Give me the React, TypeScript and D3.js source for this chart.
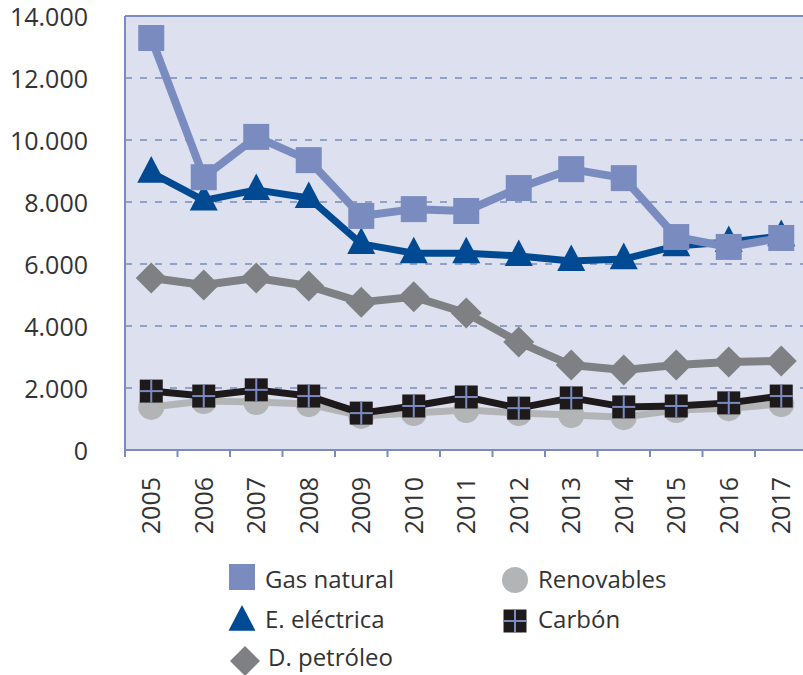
import React from "react";
import * as d3 from "d3";

// years on the x axis
const years = ["2005", "2006", "2007", "2008", "2009", "2010", "2011", "2012", "2013", "2014", "2015", "2016", "2017"];

// series values
const gasNatural = [13290, 8800, 10100, 9350, 7550, 7770, 7710, 8450, 9060, 8770, 6870, 6550, 6840];
const electrica = [8950, 8050, 8390, 8130, 6650, 6350, 6350, 6260, 6100, 6160, 6580, 6710, 6900];
const petroleo = [5550, 5320, 5550, 5290, 4770, 4940, 4420, 3480, 2740, 2580, 2740, 2840, 2870];
const renovables = [1390, 1580, 1550, 1480, 1100, 1190, 1290, 1190, 1130, 1060, 1290, 1350, 1480];
const carbon = [1900, 1740, 1940, 1740, 1190, 1420, 1710, 1350, 1680, 1390, 1420, 1520, 1740];

const yTicks = [0, 2000, 4000, 6000, 8000, 10000, 12000, 14000];

const FONT = "'Open Sans', 'Noto Sans', sans-serif";
const GAS = "#7a8cbf";
const ELEC = "#004a93";
const PETRO = "#7f8083";
const RENOV = "#b3b4b6";
const CARB = "#1e1a1b";

function Marker({ type, x, y, s, color }: { type: string; x: number; y: number; s: number; color: string }) {
  if (type === "square") {
    return <rect x={x - s / 2} y={y - s / 2} width={s} height={s} fill={color} />;
  }
  if (type === "triangle") {
    const h = s * 0.95;
    return (
      <path
        d={`M${x},${y - h * 0.62} L${x + s / 2},${y + h * 0.38} L${x - s / 2},${y + h * 0.38} Z`}
        fill={color}
      />
    );
  }
  if (type === "diamond") {
    const r = s / 2;
    return <path d={`M${x},${y - r} L${x + r},${y} L${x},${y + r} L${x - r},${y} Z`} fill={color} />;
  }
  if (type === "circle") {
    return <circle cx={x} cy={y} r={s / 2} fill={color} />;
  }
  // carbon: black square with a light cross
  return (
    <g>
      <rect x={x - s / 2} y={y - s / 2} width={s} height={s} fill={color} />
      <line x1={x - s / 2} x2={x + s / 2} y1={y} y2={y} stroke={GAS} strokeWidth={2} />
      <line x1={x} x2={x} y1={y - s / 2} y2={y + s / 2} stroke={GAS} strokeWidth={2} />
    </g>
  );
}

export default function App() {
  const left = 125;
  const right = 807.5;
  const top = 16;
  const bottom = 450;

  const x = d3.scaleBand().domain(years).range([left, right]);
  const y = d3.scaleLinear().domain([0, 14000]).range([bottom, top]);
  const cx = (d: string) => (x(d) as number) + x.bandwidth() / 2;

  const line = d3
    .line<number>()
    .x((_, i) => cx(years[i]))
    .y((v) => y(v));

  const series = [
    { name: "D. petróleo", values: petroleo, color: PETRO, type: "diamond", size: 31, width: 8 },
    { name: "Renovables", values: renovables, color: RENOV, type: "circle", size: 26, width: 7 },
    { name: "Carbón", values: carbon, color: CARB, type: "carbon", size: 23, width: 7 },
    { name: "E. eléctrica", values: electrica, color: ELEC, type: "triangle", size: 28, width: 7 },
    { name: "Gas natural", values: gasNatural, color: GAS, type: "square", size: 26, width: 8 },
  ];

  const legend = [
    { name: "Gas natural", type: "square", color: GAS, lx: 242, ly: 577, ty: 580, size: 26 },
    { name: "E. eléctrica", type: "triangle", color: ELEC, lx: 242, ly: 621, ty: 620, size: 27 },
    { name: "D. petróleo", type: "diamond", color: PETRO, lx: 245, ly: 661, ty: 658, size: 30 },
    { name: "Renovables", type: "circle", color: RENOV, lx: 515, ly: 580, ty: 580, size: 26 },
    { name: "Carbón", type: "carbon", color: CARB, lx: 515, ly: 621, ty: 620, size: 23 },
  ];

  return (
    <svg width={803} height={675} style={{ position: "absolute", left: 0, top: 0 }} fontFamily={FONT}>
      <rect x={left} y={top} width={right - left} height={bottom - top} fill="#dde0ef" />
      {yTicks
        .filter((t) => t > 0 && t < 14000)
        .map((t) => (
          <line
            key={t}
            x1={left}
            x2={right}
            y1={y(t)}
            y2={y(t)}
            stroke={GAS}
            strokeWidth={1.6}
            strokeDasharray="7 8"
          />
        ))}
      <line x1={left} x2={right} y1={top} y2={top} stroke={GAS} strokeWidth={2} />
      <line x1={left} x2={left} y1={top} y2={bottom} stroke={GAS} strokeWidth={2} />
      <line x1={left} x2={right} y1={bottom} y2={bottom} stroke={GAS} strokeWidth={2} />
      {years.map((yr) => (
        <line
          key={yr}
          x1={x(yr) as number}
          x2={x(yr) as number}
          y1={bottom}
          y2={bottom + 7}
          stroke={GAS}
          strokeWidth={2}
        />
      ))}
      {yTicks.map((t) => (
        <text key={t} x={88} y={y(t) + 1} dy="0.35em" textAnchor="end" fontSize={25} fill="#333">
          {d3.format(",")(t).replace(/,/g, ".")}
        </text>
      ))}
      {years.map((yr) => (
        <text
          key={yr}
          transform={`translate(${cx(yr)},${477}) rotate(-90)`}
          dy="0.35em"
          textAnchor="end"
          fontSize={25}
          fill="#333"
        >
          {yr}
        </text>
      ))}
      {series.map((s) => (
        <g key={s.name}>
          <path d={line(s.values) || ""} fill="none" stroke={s.color} strokeWidth={s.width} strokeLinejoin="round" />
          {s.values.map((v, i) => (
            <Marker key={i} type={s.type} x={cx(years[i])} y={y(v)} s={s.size} color={s.color} />
          ))}
        </g>
      ))}
      {legend.map((l) => (
        <g key={l.name}>
          <Marker type={l.type} x={l.lx} y={l.ly} s={l.size} color={l.color} />
          <text x={l.lx + 23} y={l.ty} dy="0.35em" fontSize={24} fill="#333">
            {l.name}
          </text>
        </g>
      ))}
    </svg>
  );
}
